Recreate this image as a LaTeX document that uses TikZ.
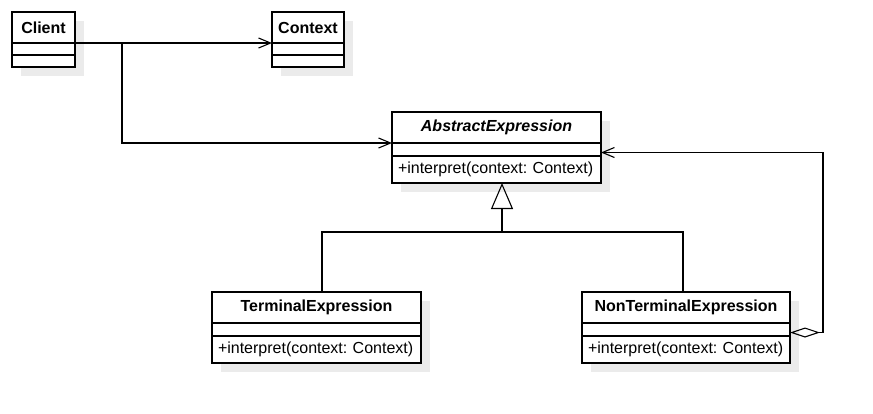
\documentclass[tikz,border=0pt]{standalone}
\usepackage{fontspec}
\setmainfont{Liberation Sans}
\usetikzlibrary{positioning,arrows.meta,shadows}
\frenchspacing

\tikzset{
  umlpart/.style={draw, fill=white, line width=1.1pt, inner sep=0pt, outer sep=0pt,
    general shadow={fill=black!8, shadow xshift=9pt, shadow yshift=-9pt},
    font=\fontsize{16}{19}\selectfont},
  umltitle/.style={umlpart, minimum width=#1, minimum height=31, font=\fontsize{16}{19}\selectfont\bfseries},
  umlattr/.style={umlpart, minimum width=#1, minimum height=13},
  umlops/.style={umlpart, align=left, minimum height=27, inner xsep=6pt, text width=#1},
  umlline/.style={line width=1.1pt},
  dep/.style={umlline, -{Straight Barb[length=12pt,width=10pt]}},
  inherit/.style={umlline, -{Triangle[open,length=26pt,width=22pt]}},
  agg/.style={umlline, {Diamond[open,length=30pt,width=10pt]}-{Straight Barb[length=12pt,width=10pt]}}
}

\begin{document}
\begin{tikzpicture}[x=1pt,y=-1pt]
\useasboundingbox (0,0) rectangle (873,413);

% classes
\node[umltitle=63] (client) at (43.5,27.5) {Client};
\node[umlattr=63, minimum height=12, below=0pt of client] (client-a) {};
\node[umlattr=63, minimum height=12, below=0pt of client-a] (client-o) {};

\node[umltitle=72] (context) at (308,27.5) {Context};
\node[umlattr=72, minimum height=12, below=0pt of context] (context-a) {};
\node[umlattr=72, minimum height=12, below=0pt of context-a] (context-o) {};

\node[umltitle=209] (abstract) at (496.5,127.5) {\itshape AbstractExpression};
\node[umlattr=209, below=0pt of abstract] (abstract-a) {};
\node[umlops=197pt, below=0pt of abstract-a] (abstract-o) {+interpret(context: Context)};

\node[umltitle=209] (terminal) at (316.5,307.5) {TerminalExpression};
\node[umlattr=209, below=0pt of terminal] (terminal-a) {};
\node[umlops=197pt, below=0pt of terminal-a] (terminal-o) {+interpret(context: Context)};

\node[umltitle=208] (nonterm) at (686,307.5) {NonTerminalExpression};
\node[umlattr=208, below=0pt of nonterm] (nonterm-a) {};
\node[umlops=196pt, below=0pt of nonterm-a] (nonterm-o) {+interpret(context: Context)};

% connectors
\coordinate (split) at (122,43);
\coordinate (bus) at (502,232);
\draw[dep] (client.south east) -- (context.south west);
\draw[dep] (split) |- (abstract.south west);
\draw[umlline] ([xshift=5.5pt]terminal.north) |- (bus) -| ([xshift=-3pt]nonterm.north);
\draw[inherit] (bus) -- ([xshift=5.5pt]abstract-o.south);
\draw[agg] ([yshift=-3pt]nonterm-a.east) -- ++(33,0) |- ([yshift=-3pt]abstract-a.east);
\end{tikzpicture}
\end{document}
